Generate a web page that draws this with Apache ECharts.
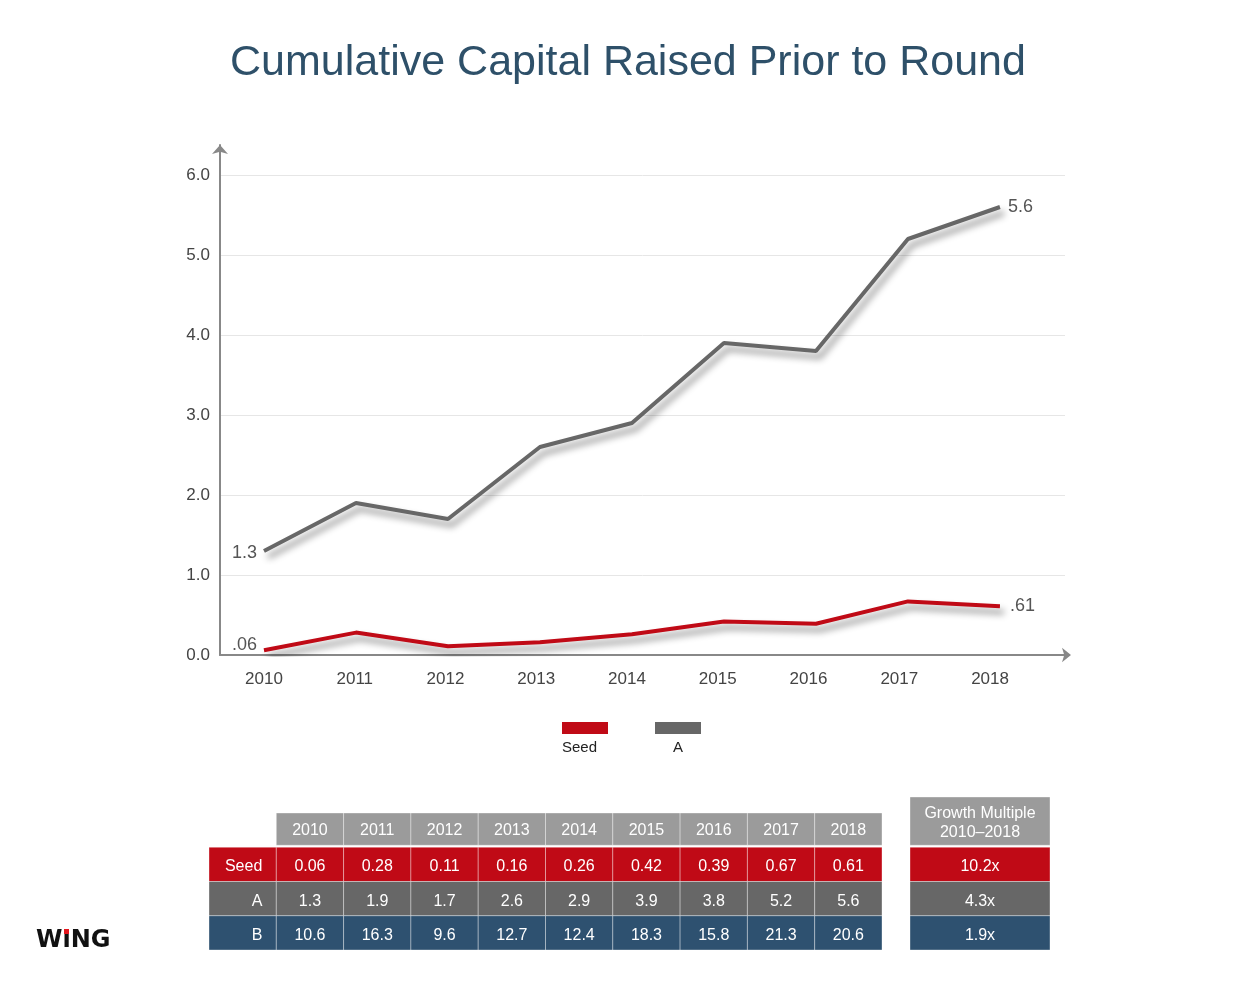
<!DOCTYPE html>
<html>
<head>
<meta charset="utf-8">
<title>Cumulative Capital Raised Prior to Round</title>
<script src="https://cdn.jsdelivr.net/npm/echarts@6/dist/echarts.min.js"></script>
<style>
  html, body { margin: 0; padding: 0; background: #fff; }
  #wrap { position: relative; width: 1256px; height: 1000px; }
  #chart { width: 1256px; height: 1000px; }
  #logo {
    position: absolute; left: 36px; top: 925px;
    font: bold 24px "DejaVu Sans", sans-serif; color: #111;
  }
  #logo .i { position: relative; }
  #logo .i b {
    position: absolute; left: 50%; top: 4px; width: 5px; height: 5px;
    margin-left: -2.5px; background: #e3161d;
  }
</style>
</head>
<body>
<div id="wrap">
  <div id="chart"></div>
  <div id="logo">W<span class="i">ı<b></b></span>NG</div>
</div>
<script>
const FONT = "'Liberation Sans', Arial, sans-serif";

const years = [2010, 2011, 2012, 2013, 2014, 2015, 2016, 2017, 2018];
const seedValues = [0.06, 0.28, 0.11, 0.16, 0.26, 0.42, 0.39, 0.67, 0.61];
const aValues = [1.3, 1.9, 1.7, 2.6, 2.9, 3.9, 3.8, 5.2, 5.6];
const bValues = [10.6, 16.3, 9.6, 12.7, 12.4, 18.3, 15.8, 21.3, 20.6];

const seedLabels = ["0.06", "0.28", "0.11", "0.16", "0.26", "0.42", "0.39", "0.67", "0.61"];
const aLabels = ["1.3", "1.9", "1.7", "2.6", "2.9", "3.9", "3.8", "5.2", "5.6"];
const bLabels = ["10.6", "16.3", "9.6", "12.7", "12.4", "18.3", "15.8", "21.3", "20.6"];

const rowNames = ["Seed", "A", "B"];
const growthLabels = ["10.2x", "4.3x", "1.9x"];
const growthHeader = "Growth Multiple\n2010\u20132018";
const yTicks = [0, 1, 2, 3, 4, 5, 6];

const COLORS = {
  Seed: "#c00a16",
  A: "#676767",
  B: "#2e5170",
  header: "#9b9b9b",
};

// short label at line ends: ".06" instead of "0.06"
function endText(v) {
  return String(v).replace(/^0\./, ".");
}

function lineData(values, leftOffset, rightDistance) {
  return values.map((v, i) => {
    const item = {value: [years[i], v]};
    if (i === 0) {
      item.label = {show: true, position: "left", distance: 7, offset: leftOffset, formatter: endText(v)};
    } else if (i === values.length - 1) {
      item.label = {show: true, position: "right", distance: rightDistance, formatter: endText(v)};
    }
    return item;
  });
}

// table cells: [col, row] with col 0 = row name, row 0 = header
const tableCells = [];
years.forEach((y, i) => tableCells.push({pos: [i + 1, 0], text: String(y), color: COLORS.header, header: true}));
[seedLabels, aLabels, bLabels].forEach((labels, r) => {
  const name = rowNames[r];
  tableCells.push({pos: [0, r + 1], text: name, color: COLORS[name], rowName: true});
  labels.forEach((t, i) => tableCells.push({pos: [i + 1, r + 1], text: t, color: COLORS[name]}));
});

const growthCells = [{pos: [0, 0], text: growthHeader, color: COLORS.header, header: true, tall: true}];
growthLabels.forEach((t, r) => growthCells.push({pos: [0, r + 1], text: t, color: COLORS[rowNames[r]]}));

function cellRenderer(cells) {
  return function(params, api) {
    const cell = cells[params.dataIndex];
    const c = api.coord([api.value(0), api.value(1)]);
    const s = api.size([1, 1]);
    let x = c[0] - s[0] / 2;
    let y = c[1] - s[1] / 2;
    let w = s[0];
    let h = s[1];
    if (cell.header) {h -= 2;}
    if (cell.tall) {y -= 16; h += 16;}
    return {
      type: "group",
      children: [
        {
          type: "rect",
          shape: {x: x, y: y, width: w, height: h},
          style: {fill: cell.color, stroke: "rgba(255,255,255,0.35)", lineWidth: 1},
        },
        {
          type: "text",
          style: {
            x: cell.rowName ? x + w - 14 : x + w / 2,
            y: y + h / 2 + (cell.header ? 1.5 : 2.5),
            text: cell.text,
            fill: "#fff",
            font: "16px " + FONT,
            lineHeight: 19,
            align: cell.rowName ? "right" : "center",
            verticalAlign: "middle",
          },
        },
      ],
    };
  };
}

const lineShadow = {
  shadowColor: "rgba(0,0,0,0.45)",
  shadowBlur: 7,
  shadowOffsetX: 4,
  shadowOffsetY: 6,
};

const chart = echarts.init(document.getElementById("chart"));

const option = {
  animation: false,
  textStyle: {fontFamily: FONT},
  title: {
    text: "Cumulative Capital Raised Prior to Round",
    left: "center",
    top: 37,
    textStyle: {fontSize: 43, fontWeight: "normal", color: "#2e5069", fontFamily: FONT},
  },
  legend: {
    data: ["Seed", "A"],
    left: 557,
    top: 717,
    icon: "rect",
    itemWidth: 46,
    itemHeight: 12,
    itemGap: 47,
    formatter: () => "",
    itemStyle: {shadowBlur: 0, shadowOffsetX: 0, shadowOffsetY: 0},
    selectedMode: false,
  },
  graphic: [
    {type: "text", left: 562, top: 740, style: {text: "Seed", font: "15px " + FONT, fill: "#222"}},
    {type: "text", left: 673, top: 740, style: {text: "A", font: "15px " + FONT, fill: "#222"}},
  ],
  grid: [
    // plot area runs above 6.0 so the y axis line can reach its arrow
    {left: 220, top: 145, width: 845, height: 510},
    {left: 209, top: 813, width: 673, height: 137},
    {left: 910, top: 813, width: 140, height: 137},
  ],
  xAxis: [
    {
      // data axis: carries the lines and the arrowed baseline
      type: "value",
      gridIndex: 0,
      position: "bottom",
      min: 2009.522,
      max: 2018.707,
      splitLine: {show: false},
      axisTick: {show: false},
      axisLabel: {show: false},
      axisLine: {
        show: true,
        symbol: ["none", "arrow"],
        symbolSize: [11, 9],
        symbolOffset: [0, 6],
        lineStyle: {color: "#888", width: 2},
      },
    },
    {type: "category", gridIndex: 1, data: ["", ...years.map(String)], show: false},
    {type: "category", gridIndex: 2, data: ["g"], show: false},
    {
      // year labels
      type: "value",
      gridIndex: 0,
      position: "bottom",
      offset: 0,
      min: 2009.515,
      max: 2018.826,
      splitLine: {show: false},
      axisTick: {show: false},
      axisLine: {show: false},
      axisLabel: {
        customValues: years,
        color: "#444",
        fontSize: 17,
        margin: 16,
        formatter: (v) => String(v),
      },
    },
  ],
  yAxis: [
    {
      type: "value",
      gridIndex: 0,
      position: "left",
      min: 0,
      max: 6.375,
      interval: 1,
      axisLine: {
        show: true,
        symbol: ["none", "arrow"],
        symbolSize: [12, 9],
        lineStyle: {color: "#888", width: 2},
      },
      axisTick: {show: false, customValues: yTicks},
      splitLine: {lineStyle: {color: "#e6e6e6", width: 1}},
      axisLabel: {
        customValues: yTicks,
        color: "#444",
        fontSize: 17,
        margin: 10,
        formatter: (v) => v.toFixed(1),
      },
    },
    {type: "category", gridIndex: 1, data: ["h", "Seed", "A", "B"], inverse: true, show: false},
    {type: "category", gridIndex: 2, data: ["h", "Seed", "A", "B"], inverse: true, show: false},
  ],
  series: [
    {
      name: "A",
      type: "line",
      xAxisIndex: 0,
      yAxisIndex: 0,
      data: lineData(aValues, [0, 2], 8),
      symbol: "circle",
      symbolSize: 0.1,
      showSymbol: true,
      color: COLORS.A,
      lineStyle: Object.assign({width: 4, color: COLORS.A}, lineShadow),
      label: {color: "#555", fontSize: 18},
      z: 3,
    },
    {
      name: "Seed",
      type: "line",
      xAxisIndex: 0,
      yAxisIndex: 0,
      data: lineData(seedValues, [0, -5], 10),
      symbol: "circle",
      symbolSize: 0.1,
      showSymbol: true,
      color: COLORS.Seed,
      lineStyle: Object.assign({width: 4, color: COLORS.Seed}, lineShadow),
      label: {color: "#555", fontSize: 18},
      z: 4,
    },
    {
      type: "custom",
      xAxisIndex: 1,
      yAxisIndex: 1,
      data: tableCells.map((c) => c.pos),
      renderItem: cellRenderer(tableCells),
      silent: true,
    },
    {
      type: "custom",
      xAxisIndex: 2,
      yAxisIndex: 2,
      data: growthCells.map((c) => c.pos),
      renderItem: cellRenderer(growthCells),
      silent: true,
    },
  ],
};

chart.setOption(option);
</script>
</body>
</html>
